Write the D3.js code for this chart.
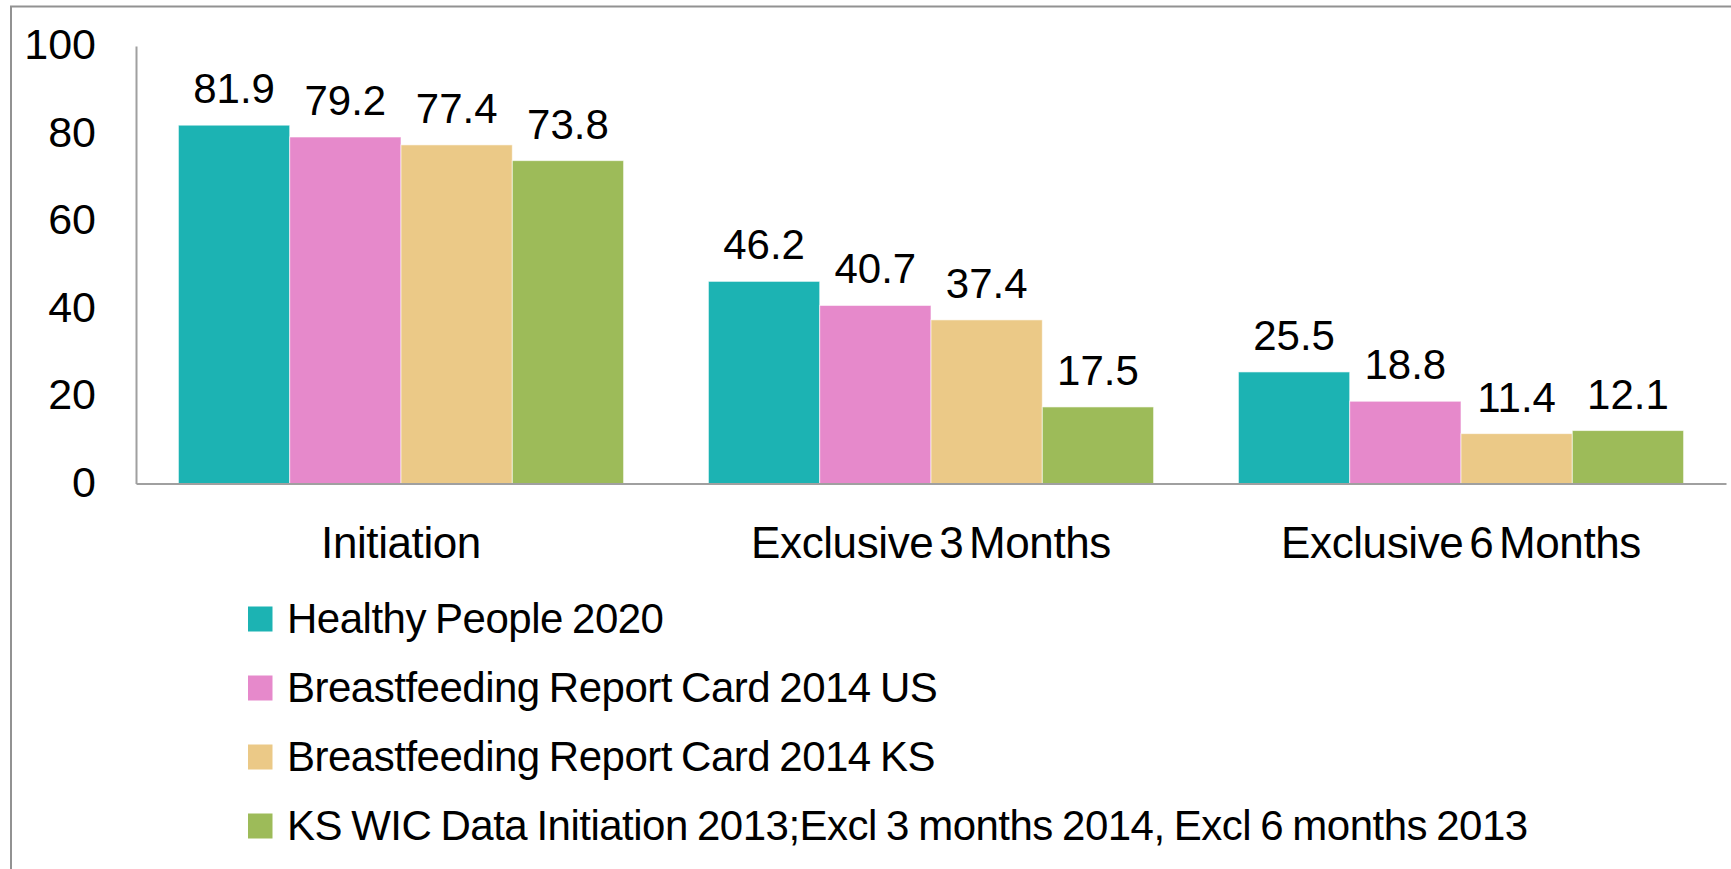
<html>
<head>
    <script src="https://d3js.org/d3.v7.min.js"></script>
    <style>
        body { margin: 0; background: white; }
        text { font-family: "Liberation Sans", Arial, sans-serif; fill: black; }
    </style>
</head>
<body>
    <svg id="chart" width="1731" height="869"></svg>
    <script>
        const categories = ["Initiation", "Exclusive 3 Months", "Exclusive 6 Months"]
        const seriesNames = [
            "Healthy People 2020",
            "Breastfeeding Report Card 2014 US",
            "Breastfeeding Report Card 2014 KS",
            "KS WIC Data Initiation 2013;Excl 3 months 2014, Excl 6 months 2013"
        ]
        const healthyPeople = [81.9, 46.2, 25.5]
        const reportCardUS = [79.2, 40.7, 18.8]
        const reportCardKS = [77.4, 37.4, 11.4]
        const ksWic = [73.8, 17.5, 12.1]
        const yTicks = [0, 20, 40, 60, 80, 100]
        const colors = ["#1cb3b3", "#e689cb", "#ebc987", "#9dbb59"]

        const seriesValues = [healthyPeople, reportCardUS, reportCardKS, ksWic]

        const svg = d3.select("#chart")

        // outer frame like the original slide chart box
        svg.append("rect")
            .attr("x", 11).attr("y", 6.5)
            .attr("width", 1760).attr("height", 900)
            .style("fill", "none")
            .style("stroke", "#929292")
            .style("stroke-width", 2)

        const x0 = d3.scaleBand().domain(categories).range([136, 1726])
            .paddingInner(0.16).paddingOuter(0.08)
        const x1 = d3.scaleBand().domain(d3.range(seriesNames.length))
            .range([0, x0.bandwidth()])
        const y = d3.scaleLinear().domain([0, 100]).range([483.5, 46])

        // bars
        const groups = svg.selectAll("g.cat").data(categories)
            .join("g")
            .attr("class", "cat")
            .attr("transform", d => `translate(${x0(d)},0)`)

        groups.selectAll("rect")
            .data((c, ci) => seriesValues.map((vals, si) => ({ si: si, v: vals[ci] })))
            .join("rect")
            .attr("x", d => x1(d.si))
            .attr("width", x1.bandwidth())
            .attr("y", d => y(d.v))
            .attr("height", d => y(0) - y(d.v))
            .style("fill", d => colors[d.si])
            .style("stroke", "white")
            .style("stroke-opacity", 0.6)
            .style("stroke-width", 1)

        groups.selectAll("text.val")
            .data((c, ci) => seriesValues.map((vals, si) => ({ si: si, v: vals[ci] })))
            .join("text")
            .attr("class", "val")
            .attr("x", d => x1(d.si) + x1.bandwidth() / 2)
            .attr("y", d => y(d.v) - 22)
            .attr("text-anchor", "middle")
            .style("font-size", "42px")
            .text(d => d.v.toFixed(1))

        // y axis
        const yAxis = svg.append("g")
            .attr("transform", "translate(136,0)")
            .call(d3.axisLeft(y).tickValues(yTicks).tickSize(0).tickPadding(40))
        yAxis.selectAll("text")
            .style("font-size", "43px")
            .attr("dy", "0.3em")
            .style("font-family", "Liberation Sans, Arial, sans-serif")
        yAxis.select(".domain").style("stroke", "#a0a0a0").style("stroke-width", 2)

        // x axis
        const xAxis = svg.append("g")
            .attr("transform", `translate(0,${y(0)})`)
            .call(d3.axisBottom(x0).tickSize(0).tickPadding(43))
        xAxis.selectAll("text")
            .style("font-size", "44px")
            .style("letter-spacing", "-0.4px")
            .style("word-spacing", "-6px")
            .style("font-family", "Liberation Sans, Arial, sans-serif")
        xAxis.select(".domain").style("stroke", "#a0a0a0").style("stroke-width", 2)

        // legend
        const legend = svg.selectAll("g.legend").data(seriesNames)
            .join("g")
            .attr("class", "legend")
            .attr("transform", (d, i) => `translate(248,${619 + i * 69})`)

        legend.append("rect")
            .attr("x", 0).attr("y", -12.5)
            .attr("width", 24.5).attr("height", 25)
            .style("fill", (d, i) => colors[i])

        legend.append("text")
            .attr("x", 39)
            .attr("y", 14)
            .style("font-size", "42px")
            .style("letter-spacing", "-0.5px")
            .style("word-spacing", "-2px")
            .text(d => d)
    </script>
</body>
</html>
